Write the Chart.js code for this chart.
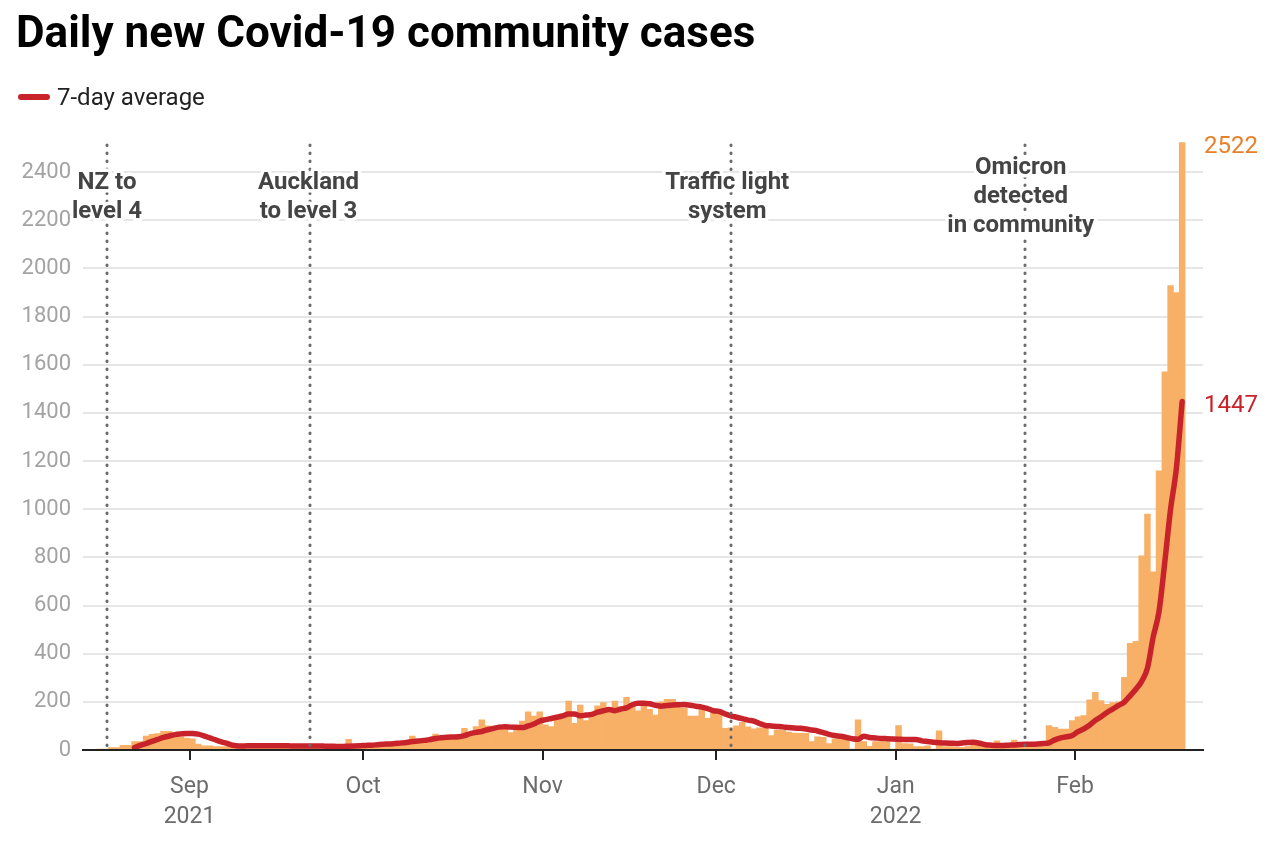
<!DOCTYPE html>
<html>
<head>
<meta charset="utf-8">
<title>Daily new Covid-19 community cases</title>
<script src="https://cdn.jsdelivr.net/npm/chart.js@4.4.1/dist/chart.umd.min.js"></script>
<style>
body { margin: 0; background: #fff; font-family: Roboto, sans-serif; }
#wrap { position: relative; width: 1280px; height: 844px; }
#title { position: absolute; left: 16px; top: 10px; font-size: 44px; line-height: 44px; font-weight: 700; color: #000; white-space: nowrap; }
#legend { position: absolute; left: 18px; top: 85px; height: 24px; font-size: 24px; line-height: 24px; color: #222; }
#legend .swatch { position: absolute; left: 0; top: 9px; width: 32px; height: 6px; border-radius: 3px; background: #C8232B; }
#legend .txt { position: absolute; left: 39px; top: 0; white-space: nowrap; }
canvas { position: absolute; left: 0; top: 0; }
</style>
</head>
<body>
<div id="wrap">
  <canvas id="myChart" width="1280" height="844"></canvas>
  <div id="title">Daily new Covid-19 community cases</div>
  <div id="legend"><span class="swatch"></span><span class="txt">7-day average</span></div>
</div>
<script>
// day index 0 = 17 Aug 2021, last = 20 Feb 2022
const dailyCases = [
  1, 3, 10, 10, 19, 19, 35, 35, 58, 65,
  68, 78, 78, 72, 55, 50, 46, 25, 17, 17,
  14, 14, 14, 14, 20, 20, 22, 13, 11, 20,
  20, 22, 24, 15, 14, 11, 13, 20, 22, 19,
  15, 14, 12, 44, 18, 19, 18, 22, 26, 28,
  30, 29, 32, 34, 58, 36, 44, 45, 66, 46,
  52, 56, 58, 90, 72, 97, 125, 100, 90, 97,
  94, 72, 94, 120, 158, 141, 158, 104, 97, 125,
  150, 203, 111, 187, 122, 155, 183, 197, 160, 203,
  180, 219, 194, 163, 194, 169, 145, 200, 210, 210,
  190, 175, 141, 141, 170, 131, 155, 160, 90, 92,
  100, 115, 96, 88, 92, 90, 60, 83, 83, 74,
  70, 69, 69, 35, 55, 53, 27, 46, 46, 46,
  4, 125, 35, 15, 35, 35, 35, 3, 101, 27,
  26, 14, 14, 17, 1, 80, 14, 14, 12, 11,
  14, 25, 30, 20, 24, 38, 22, 28, 41, 23,
  25, 22, 28, 30, 101, 94, 87, 87, 122, 138,
  143, 208, 239, 205, 190, 197, 200, 302, 443, 451,
  806, 980, 740, 1159, 1570, 1928, 1899, 2522
];

const avg7 = [
  null, null, null, null, null, null,
  10, 19, 27, 36, 44, 52, 58, 64, 67, 69, 69, 66, 59, 50, 42, 34, 27, 20, 17, 17,
  18, 18, 18, 18, 18, 18, 18, 17, 17, 17, 17, 17, 17,
  16, 16, 15, 15, 16, 17, 18,
  19, 20, 22, 24, 25, 27, 29, 31, 35, 37, 40, 43, 48, 51,
  53, 54, 55, 60, 68, 73, 77, 84, 90, 95, 97, 95, 94, 93, 100, 108,
  120, 126, 131, 136, 142, 150, 150, 142, 145, 148, 157, 163, 168, 163, 170, 175,
  188, 194, 194, 192, 186, 182, 185, 187, 188, 189, 186, 182, 178, 172, 163, 160,
  150, 142, 136, 130, 124, 120, 110, 102, 100, 98, 96, 93, 91, 90, 87, 83,
  79, 72, 65, 60, 57, 52, 47, 45, 57, 52, 50, 48, 47, 46, 45, 44,
  44, 44, 38, 35, 32, 30, 29, 28, 27, 29, 31, 32, 28, 22, 20, 19,
  19, 20, 21, 23, 24, 24, 25, 27, 30, 42, 50, 55, 60, 76, 88, 103,
  123, 138, 156, 170, 185, 199, 225, 252, 285, 340, 470, 575, 780, 1000, 1170, 1447
];

// month boundaries (in day index units) and their labels
const monthTicks = [15.5, 45.5, 76.5, 106.5, 137.5, 168.5];
const monthLabels = [['Sep', '2021'], ['Oct'], ['Nov'], ['Dec'], ['Jan', '2022'], ['Feb']];
const yTicks = [0, 200, 400, 600, 800, 1000, 1200, 1400, 1600, 1800, 2000, 2200, 2400];

const eventDays = [1.25, 36.4, 109, 159.8];
const eventLabels = [
  ['NZ to', 'level 4'],
  ['Auckland', 'to level 3'],
  ['Traffic light', 'system'],
  ['Omicron', 'detected', 'in community']
];
const eventTextShift = [0, -2, -3.5, -4];

const barPoints = dailyCases.map((v, i) => ({x: i, y: v}));
const avgPoints = avg7.map((v, i) => ({x: i, y: v}));

Chart.defaults.font.family = 'Roboto';

const annotate = {
  id: 'annotate',
  afterDatasetsDraw(chart) {
    const {ctx, chartArea, scales} = chart;
    const x = scales.x, y = scales.y;
    ctx.save();
    ctx.strokeStyle = '#6a6a6a';
    ctx.lineWidth = 3;
    ctx.lineCap = 'round';
    ctx.setLineDash([0.5, 7.5]);
    eventDays.forEach(d => {
      const px = Math.round(x.getPixelForValue(d));
      ctx.beginPath();
      ctx.moveTo(px, 145);
      ctx.lineTo(px, 748);
      ctx.stroke();
    });
    ctx.setLineDash([]);

    ctx.font = 'bold 24px Roboto';
    ctx.textAlign = 'center';
    ctx.textBaseline = 'alphabetic';
    ctx.lineJoin = 'round';
    eventLabels.forEach((lines, i) => {
      const px = x.getPixelForValue(eventDays[i]) + eventTextShift[i];
      const top = lines.length === 3 ? 174 : 189;
      lines.forEach((t, j) => {
        const ty = top + j * 29;
        ctx.strokeStyle = '#fff';
        ctx.lineWidth = 7;
        ctx.strokeText(t, px, ty);
        ctx.fillStyle = '#444';
        ctx.fillText(t, px, ty);
      });
    });

    // end value labels
    const lastBar = dailyCases[dailyCases.length - 1];
    const lastAvg = avg7[avg7.length - 1];
    ctx.font = '24px Roboto';
    ctx.textAlign = 'left';
    ctx.textBaseline = 'middle';
    ctx.fillStyle = '#E8802A';
    ctx.fillText(String(lastBar), chartArea.right + 1, y.getPixelForValue(lastBar) + 4.5);
    ctx.fillStyle = '#C8232B';
    ctx.fillText(String(lastAvg), chartArea.right + 1, y.getPixelForValue(lastAvg) + 4.5);
    ctx.restore();
  }
};

const ctx = document.getElementById('myChart');
new Chart(ctx, {
  type: 'bar',
  data: {
    datasets: [
      {
        type: 'line',
        label: '7-day average',
        data: avgPoints,
        borderColor: '#C8232B',
        borderWidth: 5.5,
        pointRadius: 0,
        cubicInterpolationMode: 'monotone',
        borderCapStyle: 'round',
        borderJoinStyle: 'round',
        order: 0
      },
      {
        type: 'bar',
        label: 'Daily cases',
        data: barPoints,
        backgroundColor: '#F8AF66',
        borderWidth: 0,
        barPercentage: 1,
        categoryPercentage: 1,
        order: 1
      }
    ]
  },
  options: {
    responsive: false,
    animation: false,
    events: [],
    layout: { padding: { left: 0, right: 77, top: 138.3, bottom: 0 } },
    plugins: { legend: { display: false }, tooltip: { enabled: false } },
    scales: {
      x: {
        type: 'linear',
        min: -2.9,
        max: 190.6,
        offset: false,
        afterBuildTicks: s => { s.ticks = monthTicks.map(v => ({value: v})); },
        afterFit: s => { s.height = 94; },
        ticks: {
          autoSkip: false,
          maxRotation: 0,
          padding: 12,
          color: '#6b6b6b',
          font: { size: 23, lineHeight: 1.3 },
          callback: (v, i) => monthLabels[i]
        },
        grid: { offset: false, drawOnChartArea: false, tickLength: 10, color: '#222', lineWidth: 2 },
        border: { display: true, color: '#222', width: 2, z: 1 }
      },
      y: {
        min: 0,
        max: 2540,
        afterBuildTicks: s => { s.ticks = yTicks.map(v => ({value: v})); },
        afterFit: s => { s.width = 83; },
        ticks: { padding: 12, color: '#a3a3a3', font: { size: 22 }, callback: v => String(v) },
        grid: { color: '#e6e6e6', lineWidth: 2, drawTicks: false },
        border: { display: false }
      }
    }
  },
  plugins: [annotate]
});
</script>
</body>
</html>
